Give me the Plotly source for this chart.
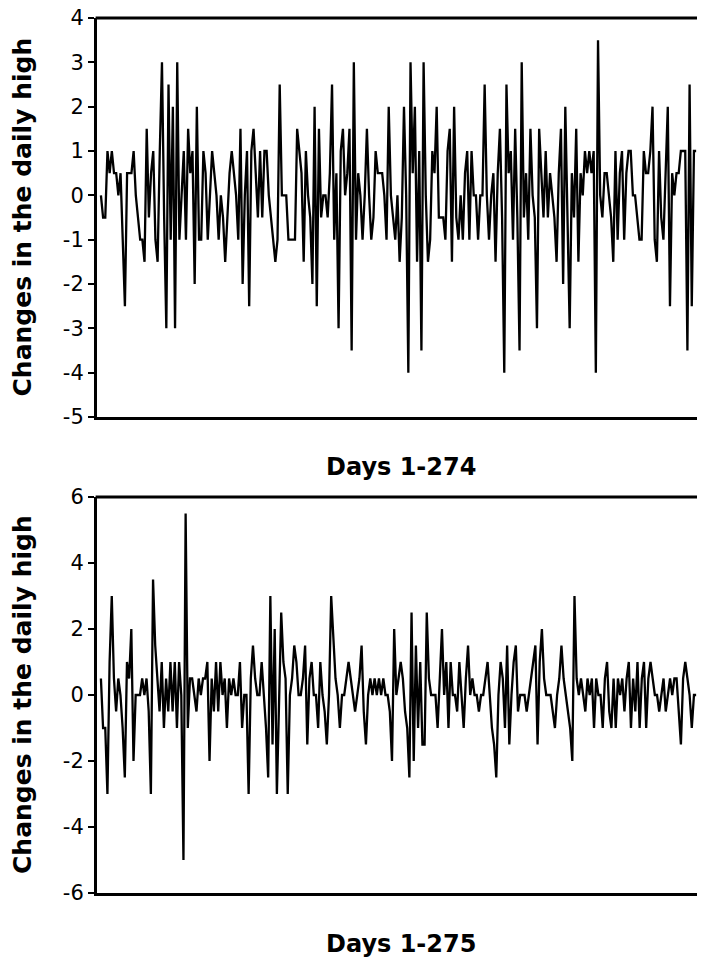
import plotly.graph_objects as go

# ---- data: changes in the daily high ----
top_changes = [
    0, -0.5, -0.5, 1, 0.5, 1, 0.5, 0.5, 0, 0.5, -1, -2.5, 0.5, 0.5, 0.5, 1, 0, -0.5, -1, -1,
    -1.5, 1.5, -0.5, 0.5, 1, -1, -1.5, 1, 3, -0.5, -3, 2.5, -1, 2, -3, 3, -1, 0, 1, -1,
    1.5, 0.5, 1, -2, 2, -1,
    -1, 1, 0.5, -1, 0, 1, 0.5, 0, -1, 0, -0.5, -1.5, -0.5, 0.5, 1, 0.5, 0, -1, 1.5, -2,
    0, 1, -2.5, 1, 1.5, 0.5, -0.5, 1, -0.5, 1, 1, 0, -0.5, -1, -1.5, -1, 2.5, 0, 0, 0,
    -1, -1, -1, -1, 1.5, 1,
    0.5, -1.5, 1, 0, -0.5, -2, 2, -2.5, 1.5, -0.5, 0, 0, -0.5, 0.5, 2.5, -1, 0.5, -3, 1, 1.5,
    0, 0.5, 1.5, -3.5, 3, -1, 0.5, 0, -1, 0, 1.5, 0, -1, -0.5, 1, 0.5, 0.5, 0.5, 0, -1,
    2, 0, -0.5, -1, 0, -1.5,
    -0.5, 2, 0, -4, 3, 0.5, 2, -1.5, 1, -3.5, 3, 0, -1.5, -1, 1, 0.5, 2, -0.5, -0.5, -0.5,
    -1, 1, 1.5, -1.5, 2, -0.5, -1, 0, -1, 0.5, 1, -1, 1, 0, 0, -1, 0, 0, 2.5, 0,
    -1, 0, 0.5, -1.5, 0.5, 1.5,
    -0.5, -4, 2.5, 0.5, 1, -1, 1.5, -0.5, -3.5, 3, -0.5, 0.5, -1, 1.5, 0, -0.5, -3, 1.5, 0.5, -0.5,
    1, -0.5, 0.5, 0, -0.5, -1.5, 0.5, 1.5, -2, 2, -1, -3, 0.5, -0.5, 1.5, -1.5, 0.5, 0, 1, 0.5,
    1, 0.5, 1, -4, 3.5, 0,
    -0.5, 0.5, 0.5, 0, -0.5, -1.5, 1, -1, 0.5, 1, -1, 0.5, 1, 1, 0, 0, -0.5, -1, -1, 1,
    0.5, 0.5, 1, 2, -1, -1.5, 1, -0.5, -1, 0.5, 2, -2.5, 0.5, 0, 0.5, 0.5, 1, 1, 1, -3.5,
    2.5, -2.5, 1, 1,
]

bottom_changes = [
    0.5, -1, -1, -3, 1, 3, 0.5, -0.5, 0.5, 0, -1, -2.5, 1, 0.5, 2, -2, 0, 0, 0, 0.5,
    0, 0.5, -0.5, -3, 3.5, 1.5, 0.5, -0.5, 1, -1, 0.5, -0.5, 1, -0.5, 1, -1, 1, 0, -5, 5.5,
    -1, 0.5, 0.5, 0, -0.5, 0.5,
    0, 0.5, 0.5, 1, -2, 0.5, -0.5, 1, -0.5, 1, 0, 0.5, -1, 0.5, 0, 0.5, 0, 0, 1, -1,
    0, 0, -3, 0.5, 1.5, 0.5, 0, 0, 1, 0, -1, -2.5, 3, -1.5, 2, -3, 0, 2.5, 1, 0.5,
    -3, 0, 0.5, 1.5, 1, 0,
    0, 0.5, 1.5, -1.5, 0.5, 1, 0, 0, -1, 1, 0, -0.5, -1.5, 0, 3, 1.5, 0.5, 0, -1, 0,
    0, 0.5, 1, 0.5, 0, -0.5, 0, 0.5, 1.5, -0.5, -1.5, 0, 0.5, 0, 0.5, 0, 0.5, 0, 0.5, 0,
    0, -0.5, -2, 2, 0, 0.5,
    1, 0.5, -0.5, -1, -2.5, 2.5, -2, 1.5, -1, 1, -1.5, -1.5, 2.5, 0.5, 0, 0, 0, -1, 0.5, 2,
    0, 1, -1, 1, 0, 0, -0.5, 1, 0, -1, 0.5, 1.5, 0, 0.5, 0, 0, -0.5, 0, 0, 0.5,
    1, 0, -1, -1.5, -2.5, 0,
    1, 0.5, -1, 1.5, -1.5, 0, 1, 1.5, -0.5, 0, 0, 0, -0.5, 0, 0.5, 1, 1.5, -1.5, 1, 2,
    0.5, 0, 0, 0, -0.5, -1, 0, 0.5, 1.5, 0.5, 0, -0.5, -1, -2, 3, 0.5, 0, 0.5, 0, -0.5,
    0.5, 0, 0.5, -1, 0.5, 0,
    0, -1, 0.5, 1, -0.5, -1, 0.5, -1, 0.5, 0, 0.5, -0.5, 0.5, 1, -1, 0.5, -0.5, 1, -1, 0.5,
    1, -1, 0.5, 1, 0.5, 0, 0, -0.5, 0, 0.5, -0.5, 0, 0.5, 0, 0.5, 0.5, -0.5, -1.5, 0.5, 1,
    0.5, 0, -1, 0, 0,
]

top_days = list(range(1, len(top_changes) + 1))
bottom_days = list(range(1, len(bottom_changes) + 1))

top_yticks = [4, 3, 2, 1, 0, -1, -2, -3, -4, -5]
top_ytick_labels = ["4", "3", "2", "1", "0", "-1", "-2", "-3", "-4", "-5"]
bottom_yticks = [6, 4, 2, 0, -2, -4, -6]
bottom_ytick_labels = ["6", "4", "2", "0", "-2", "-4", "-6"]

y_title = "Changes in the daily high"
top_x_title = "Days 1-274"
bottom_x_title = "Days 1-275"

# The page places the figure 8 px in from the window's top-left corner,
# so the figure is sized to the visible window and positions are given in window pixels.
OFF = 8
W, H = 705 - 2 * OFF, 960 - OFF
FONT = "DejaVu Sans, Liberation Sans, Arial, sans-serif"

def px_x(p):
    return (p - OFF) / W

def px_y(p):
    return 1 - (p - OFF) / H

left = 97
top1, bot1 = 18, 417
top2, bot2 = 497, 893

fig = go.Figure()
fig.add_trace(go.Scatter(x=top_days, y=top_changes, mode="lines",
                         line=dict(color="black", width=2.3), xaxis="x", yaxis="y",
                         hoverinfo="skip"))
fig.add_trace(go.Scatter(x=bottom_days, y=bottom_changes, mode="lines",
                         line=dict(color="black", width=2.3), xaxis="x2", yaxis="y2",
                         hoverinfo="skip"))

axis_common = dict(showgrid=False, zeroline=False, showline=True, linecolor="black",
                   linewidth=3, automargin=False)
tick_font = dict(family=FONT, size=21, color="black")

fig.update_layout(
    width=W, height=H, autosize=False,
    margin=dict(l=0, r=0, t=0, b=0, pad=0, autoexpand=False),
    paper_bgcolor="white", plot_bgcolor="white",
    showlegend=False,
    xaxis=dict(domain=[px_x(left), 1], anchor="y",
               range=[-0.8, len(top_changes) + 0.4],
               showticklabels=False, ticks="", **axis_common),
    yaxis=dict(domain=[px_y(bot1), px_y(top1)], anchor="x",
               range=[-5, 4], tickvals=top_yticks, ticktext=top_ytick_labels,
               ticks="outside", ticklen=6, tickwidth=2, tickcolor="black",
               ticklabeloverflow="allow", tickfont=tick_font, **axis_common),
    xaxis2=dict(domain=[px_x(left), 1], anchor="y2",
                range=[-0.8, len(bottom_changes) + 0.4],
                showticklabels=False, ticks="", **axis_common),
    yaxis2=dict(domain=[px_y(bot2), px_y(top2)], anchor="x2",
                range=[-6, 6], tickvals=bottom_yticks, ticktext=bottom_ytick_labels,
                ticks="outside", ticklen=6, tickwidth=2, tickcolor="black",
                ticklabeloverflow="allow", tickfont=tick_font, **axis_common),
)

# top border lines of each panel
for t in (top1, top2):
    fig.add_shape(type="line", xref="paper", yref="paper",
                  x0=px_x(left) - 0.002, x1=1, y0=px_y(t), y1=px_y(t),
                  line=dict(color="black", width=3))

for (t, b, xt, ty) in ((top1, bot1, top_x_title, 467), (top2, bot2, bottom_x_title, 944)):
    fig.add_annotation(text="<b>" + y_title + "</b>", textangle=-90,
                       xref="paper", yref="paper", x=px_x(22), y=px_y((t + b) / 2),
                       xanchor="center", yanchor="middle", showarrow=False,
                       font=dict(family=FONT, size=25, color="black"))
    fig.add_annotation(text="<b>" + xt + "</b>",
                       xref="paper", yref="paper", x=px_x(401), y=px_y(ty),
                       xanchor="center", yanchor="middle", showarrow=False,
                       font=dict(family=FONT, size=24, color="black"))

fig.write_html("out.html")
